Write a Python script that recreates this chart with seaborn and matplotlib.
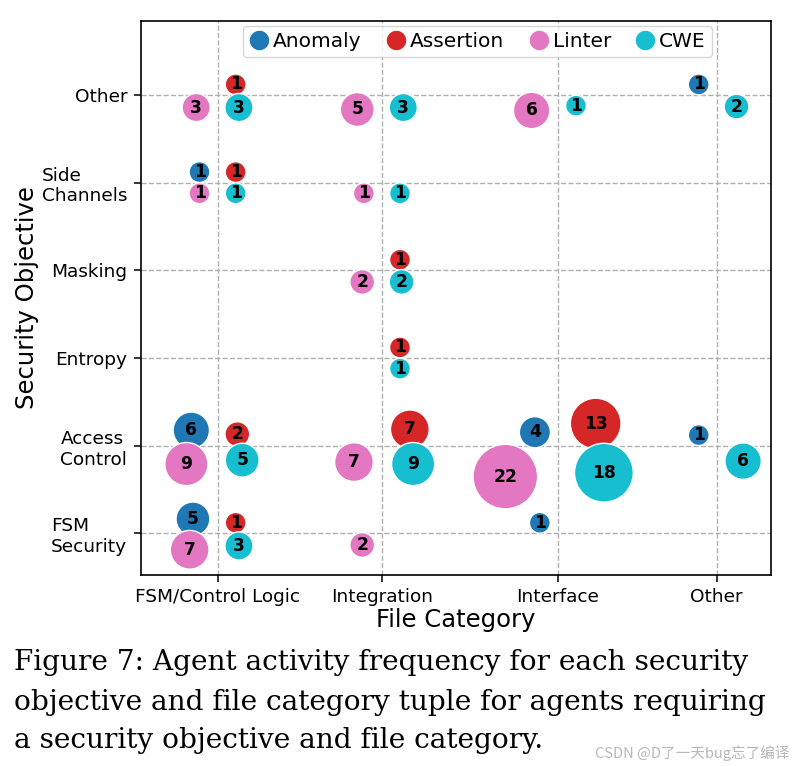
import matplotlib
matplotlib.use("Agg")
import matplotlib.pyplot as plt
from matplotlib.lines import Line2D
import seaborn as sns
import pandas as pd

# categories (y from bottom to top, x from left to right)
objectives = ["FSM Security", "Access Control", "Entropy", "Masking", "Side Channels", "Other"]
categories = ["FSM/Control Logic", "Integration", "Interface", "Other"]
agents = ["Anomaly", "Assertion", "Linter", "CWE"]
palette = ["#1f77b4", "#d62728", "#e377c2", "#17becf"]

# one entry per bubble: security objective, file category, agent, count
point_obj = [
    "Other", "Side Channels", "Access Control", "Access Control", "Access Control", "FSM Security", "FSM Security",
    "Other", "Side Channels", "Masking", "Entropy", "Access Control", "Access Control", "Access Control", "FSM Security",
    "Other", "Other", "Other", "Side Channels", "Side Channels", "Masking", "Access Control", "Access Control",
    "Access Control", "FSM Security", "FSM Security",
    "Other", "Other", "Other", "Other", "Side Channels", "Side Channels", "Masking", "Entropy", "Access Control",
    "Access Control", "Access Control", "Access Control", "FSM Security",
]
point_cat = [
    "Other", "FSM/Control Logic", "FSM/Control Logic", "Interface", "Other", "FSM/Control Logic", "Interface",
    "FSM/Control Logic", "FSM/Control Logic", "Integration", "Integration", "FSM/Control Logic", "Integration",
    "Interface", "FSM/Control Logic",
    "FSM/Control Logic", "Integration", "Interface", "FSM/Control Logic", "Integration", "Integration",
    "FSM/Control Logic", "Integration", "Interface", "FSM/Control Logic", "Integration",
    "FSM/Control Logic", "Integration", "Interface", "Other", "FSM/Control Logic", "Integration", "Integration",
    "Integration", "FSM/Control Logic", "Integration", "Interface", "Other", "FSM/Control Logic",
]
point_agent = ["Anomaly"] * 7 + ["Assertion"] * 8 + ["Linter"] * 11 + ["CWE"] * 13
point_count = [
    1, 1, 6, 4, 1, 5, 1,
    1, 1, 1, 1, 2, 7, 13, 1,
    3, 5, 6, 1, 1, 2, 9, 7, 22, 7, 2,
    3, 3, 1, 2, 1, 1, 2, 1, 5, 9, 18, 6, 3,
]

# layout: tick positions of the file categories, quadrant of each agent around a cell
cat_pos = dict(zip(categories, [0, 1, 2.071, 3.038]))
quad = {"Anomaly": (-1, 1), "Assertion": (1, 1), "Linter": (-1, -1), "CWE": (1, -1)}

df = pd.DataFrame({"obj": point_obj, "cat": point_cat, "agent": point_agent, "count": point_count})
spread = 0.1 + 0.01 * df["count"]
df["x"] = df["cat"].map(cat_pos) + df["agent"].map(lambda a: quad[a][0]) * spread
df["y"] = df["obj"].map(objectives.index) + df["agent"].map(lambda a: quad[a][1]) * spread * 1.1

sns.set_style("ticks")
plt.rcParams["font.family"] = "DejaVu Sans"
for key in ["text.color", "axes.labelcolor", "xtick.color", "ytick.color"]:
    plt.rcParams[key] = "black"

fig = plt.figure(figsize=(7.93, 7.66), dpi=100)
ax = fig.add_axes([0.1772, 0.2493, 0.7951, 0.7236])

sns.scatterplot(data=df, x="x", y="y", hue="agent", hue_order=agents, palette=palette,
                size="count", sizes=(225, 2160), size_norm=(1, 22),
                edgecolor="white", linewidth=1, alpha=1, legend=False, ax=ax, zorder=3)

for _, r in df.iterrows():
    ax.text(r["x"], r["y"], str(r["count"]), ha="center", va="center",
            fontsize=12.3, fontweight="bold", color="black", zorder=4)

ax.set_xlim(-0.469, 3.368)
ax.set_ylim(-0.475, 5.847)
ax.set_xticks(list(cat_pos.values()), categories, fontsize=13.3)
ax.set_yticks(range(len(objectives)), [o.replace(" ", "\n") for o in objectives], fontsize=13.3)
for lbl in ax.get_yticklabels():
    lbl.set_multialignment("left")
ax.tick_params(length=5, width=1.1, pad=4.5)
for s in ax.spines.values():
    s.set_linewidth(1.2)
    s.set_color("black")
ax.grid(True, linestyle="--", color="#b0b0b0", linewidth=1)
ax.set_axisbelow(True)

ax.set_xlabel("File Category", fontsize=17.5, labelpad=1)
ax.set_ylabel("Security Objective", fontsize=17.5, labelpad=2)

handles = [Line2D([], [], marker="o", linestyle="", markersize=15, markerfacecolor=c,
                  markeredgecolor="white", label=a) for a, c in zip(agents, palette)]
ax.legend(handles=handles, loc="upper center", bbox_to_anchor=(0.5345, 0.99), ncol=4,
          fontsize=14.5, handlelength=1.0, handletextpad=0.2, columnspacing=1.2,
          borderpad=0.3, borderaxespad=0, frameon=True)

caption = [
    "Figure 7: Agent activity frequency for each security",
    "objective and file category tuple for agents requiring",
    "a security objective and file category.",
]
for line, yb in zip(caption, [0.1253, 0.0731, 0.0235]):
    fig.text(0.018, yb, line, fontsize=20.2, family="DejaVu Serif", va="baseline", ha="left")

fig.text(0.995, 0.017, "CSDN @D了一天bug忘了编译", fontsize=10.5, color="#b8b8b8",
         family=["Noto Sans CJK SC", "DejaVu Sans"], ha="right", va="center")

fig.savefig("out.png", dpi=100)
